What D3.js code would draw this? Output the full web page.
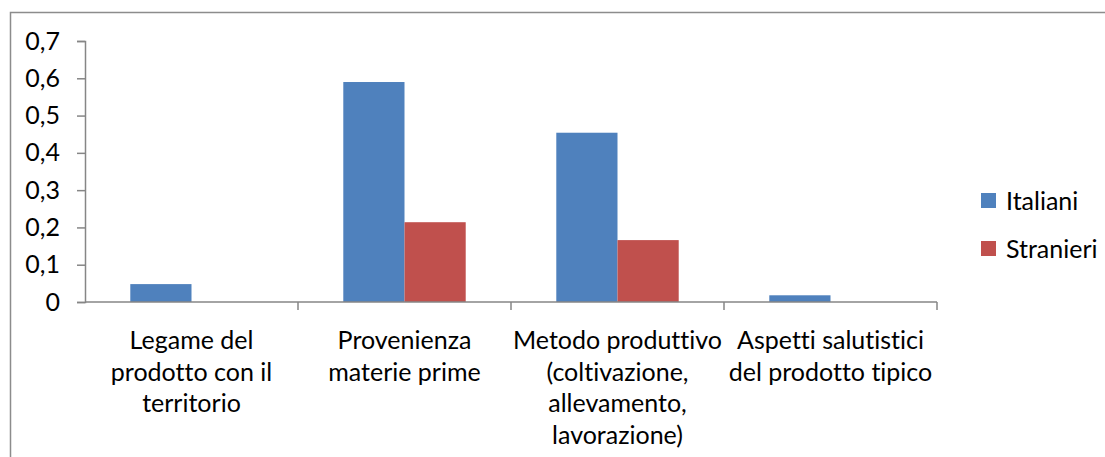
<!DOCTYPE html>
<html>
<head>
<meta charset="utf-8">
<script src="https://cdn.jsdelivr.net/npm/d3@7"></script>
<style>
  html, body { margin: 0; padding: 0; background: #fff; }
  svg { display: block; }
  text { font-family: Lato, "Open Sans", sans-serif; fill: #000; font-variant-ligatures: none; }
</style>
</head>
<body>
<svg id="chart" width="1105" height="457"></svg>
<script>
// Categories (multi-line labels) and values per series
const categories = [
  ["Legame del", "prodotto con il", "territorio"],
  ["Provenienza", "materie prime"],
  ["Metodo produttivo", "(coltivazione,", "allevamento,", "lavorazione)"],
  ["Aspetti salutistici", "del prodotto tipico"]
];
const seriesNames = ["Italiani", "Stranieri"];
const italiani = [0.048, 0.59, 0.454, 0.018];
const stranieri = [0, 0.214, 0.166, 0];
const yTicks = [0, 0.1, 0.2, 0.3, 0.4, 0.5, 0.6, 0.7];
const colors = ["#4F81BD", "#C0504D"];

const svg = d3.select("#chart");
const plot = { left: 85, right: 937, top: 41, bottom: 302 };
const fontSize = 25;

// Outer chart frame
svg.append("rect")
  .attr("x", 10.5).attr("y", 12.5)
  .attr("width", 1200).attr("height", 600)
  .attr("fill", "none").attr("stroke", "#8c8c8c").attr("stroke-width", 1.5);

const catKeys = categories.map((c, i) => i);
const x = d3.scaleBand().domain(catKeys).range([plot.left, plot.right])
  .paddingInner(0).paddingOuter(0);
const inner = d3.scaleBand().domain(seriesNames)
  .range([0, x.bandwidth()]).paddingInner(0).paddingOuter(0.74);
const y = d3.scaleLinear().domain([0, 0.7]).range([plot.bottom, plot.top]);

const fmt = d => d === 0 ? "0" : d3.format(".1f")(d).replace(".", ",");

// Bars
const series = [italiani, stranieri];
seriesNames.forEach((name, s) => {
  svg.append("g").selectAll("rect")
    .data(series[s].map((v, i) => ({ v, i })))
    .join("rect")
    .filter(d => d.v > 0)
    .attr("x", d => x(d.i) + inner(name))
    .attr("width", inner.bandwidth())
    .attr("y", d => y(d.v))
    .attr("height", d => y(0) - y(d.v))
    .attr("fill", colors[s]);
});

// Y axis
const yAxis = svg.append("g")
  .attr("transform", `translate(${plot.left},0)`)
  .call(d3.axisLeft(y).tickValues(yTicks).tickFormat(fmt).tickSize(8).tickPadding(17));
yAxis.select(".domain").attr("stroke", "#868686").attr("stroke-width", 1.5);
yAxis.selectAll(".tick line").attr("stroke", "#868686").attr("stroke-width", 1.5);
yAxis.selectAll(".tick text").attr("font-size", fontSize).attr("font-family", "Lato, sans-serif").attr("fill", "#000");

// X axis (ticks at category boundaries)
const xAxisG = svg.append("g").attr("transform", `translate(0,${plot.bottom})`);
xAxisG.append("line")
  .attr("x1", plot.left).attr("x2", plot.right)
  .attr("stroke", "#868686").attr("stroke-width", 1.5);
const bounds = catKeys.map(i => x(i)).concat([plot.right]);
xAxisG.selectAll("line.tk").data(bounds.slice(1)).join("line")
  .attr("class", "tk")
  .attr("x1", d => d).attr("x2", d => d)
  .attr("y1", 0).attr("y2", 8)
  .attr("stroke", "#868686").attr("stroke-width", 1.5);

// Category labels
const lab = svg.append("g").selectAll("text")
  .data(categories.map((lines, i) => ({ lines, i })))
  .join("text")
  .attr("text-anchor", "middle")
  .attr("font-size", fontSize)
  .attr("x", d => x(d.i) + x.bandwidth() / 2)
  .attr("y", 349);
lab.selectAll("tspan")
  .data(d => d.lines.map(t => ({ t, cx: x(d.i) + x.bandwidth() / 2 })))
  .join("tspan")
  .attr("x", d => d.cx)
  .attr("dy", (d, k) => k === 0 ? 0 : 31.5)
  .text(d => d.t);

// Legend
const legend = svg.append("g").selectAll("g")
  .data(seriesNames).join("g")
  .attr("transform", (d, i) => `translate(981,${193 + i * 48})`);
legend.append("rect")
  .attr("width", 15).attr("height", 15)
  .attr("fill", (d, i) => colors[i]);
legend.append("text")
  .attr("x", 25).attr("y", 17)
  .attr("font-size", fontSize)
  .text(d => d);
</script>
</body>
</html>
